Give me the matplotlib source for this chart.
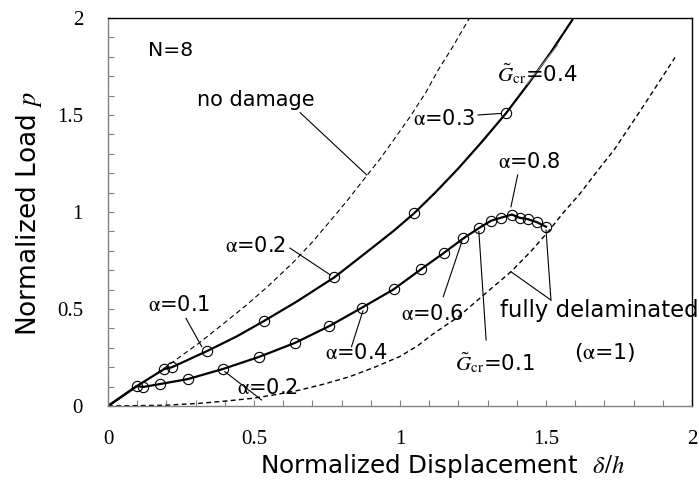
import matplotlib
matplotlib.use("Agg")
import matplotlib.pyplot as plt
from matplotlib.ticker import MultipleLocator

plt.rcParams['mathtext.fontset'] = 'stix'
plt.rcParams['font.family'] = ['DejaVu Sans']

# ---- data ----
# no damage (dashed)
nd_x = [0, 0.1, 0.2, 0.315, 0.4, 0.474, 0.55, 0.634, 0.7, 0.759, 0.82, 0.885,
        0.93, 0.98, 1.034, 1.09, 1.13, 1.18, 1.238]
nd_y = [0, 0.1, 0.203, 0.328, 0.43, 0.52, 0.62, 0.74, 0.845, 0.95, 1.06, 1.185,
        1.27, 1.375, 1.49, 1.62, 1.73, 1.85, 2.0]
# fully delaminated (dashed)
fd_x = [0, 0.2, 0.315, 0.4, 0.497, 0.58, 0.656, 0.74, 0.827, 0.91, 0.998, 1.06,
        1.112, 1.2, 1.283, 1.38, 1.45, 1.511, 1.56, 1.614, 1.67, 1.733, 1.8, 1.87, 1.942]
fd_y = [0, 0.004, 0.014, 0.025, 0.04, 0.06, 0.082, 0.113, 0.151, 0.198, 0.254, 0.31,
        0.37, 0.46, 0.568, 0.692, 0.8, 0.905, 0.998, 1.09, 1.2, 1.32, 1.47, 1.63, 1.797]
# Gcr = 0.4 (solid) line and circles
g4_x = [0, 0.099, 0.192, 0.219, 0.339, 0.44, 0.534, 0.646, 0.775, 0.907, 0.98, 1.048,
        1.12, 1.2, 1.28, 1.363, 1.443, 1.52, 1.59]
g4_y = [0, 0.103, 0.19, 0.2, 0.283, 0.358, 0.438, 0.538, 0.663, 0.818, 0.905, 0.993,
        1.099, 1.225, 1.361, 1.509, 1.668, 1.831, 1.99]
g4_cx = [0.099, 0.192, 0.219, 0.339, 0.534, 0.775, 1.048, 1.363]
g4_cy = [0.103, 0.19, 0.2, 0.283, 0.438, 0.663, 0.993, 1.509]
# Gcr = 0.1 (solid) line with circles
g1_x = [0, 0.099, 0.12, 0.178, 0.274, 0.394, 0.517, 0.64, 0.758, 0.87, 0.978,
        1.072, 1.151, 1.217, 1.27, 1.312, 1.347, 1.383, 1.41, 1.438, 1.468, 1.5]
g1_y = [0, 0.103, 0.098, 0.113, 0.139, 0.191, 0.253, 0.325, 0.412, 0.507, 0.601,
        0.705, 0.79, 0.864, 0.917, 0.955, 0.971, 0.987, 0.97, 0.963, 0.948, 0.924]
g1_cx = g1_x[2:]
g1_cy = g1_y[2:]

fig = plt.figure(figsize=(6.99, 4.86), dpi=100)
ax = fig.add_axes([108/699, 80/486, 584/699, 388/486])

ax.plot(nd_x, nd_y, color='black', lw=0.8, dashes=[4.5, 3])
ax.plot(fd_x, fd_y, color='black', lw=1.0, dashes=[3.5, 2.4])
ax.plot(g4_x, g4_y, color='black', lw=1.6)
ax.plot(g1_x, g1_y, color='black', lw=1.6)
mk = dict(ls='none', marker='o', ms=7.4, mfc='none', mec='black', mew=0.8)
ax.plot(g4_cx, g4_cy, **mk)
ax.plot(g1_cx, g1_cy, **mk)

ax.set_xlim(0, 2)
ax.set_ylim(0, 2)
ax.xaxis.set_minor_locator(MultipleLocator(0.1))
ax.yaxis.set_minor_locator(MultipleLocator(0.1))
ax.set_xticks([0, 0.5, 1, 1.5, 2], ['0', '0.5', '1', '1.5', '2'])
ax.set_yticks([0, 0.5, 1, 1.5, 2], ['0', '0.5', '1', '1.5', '2'])
ax.tick_params(which='both', direction='in', length=4.3, width=0.8, color='#808080',
               top=False, right=False)
ax.tick_params(axis='x', pad=17)
ax.tick_params(axis='y', pad=18)
for lab in ax.get_xticklabels() + ax.get_yticklabels():
    lab.set_family('Liberation Serif')
    lab.set_fontsize(15)
for s in ['left', 'bottom']:
    ax.spines[s].set_color('#808080')
for s in ['top', 'right']:
    ax.spines[s].set_color('black')
for s in ax.spines.values():
    s.set_linewidth(1.0)

ax.set_xlabel(r'Normalized Displacement  $\delta/h$', fontsize=17.7)
ax.xaxis.set_label_coords(0.572, -0.1727)
ax.xaxis.label.set_va('baseline')
ax.set_ylabel(r'Normalized Load $p$', fontsize=19)
ax.yaxis.set_label_coords(-0.11, 0.495)

def lead(x0, y0, x1, y1, c='black'):
    ax.plot([x0, x1], [y0, y1], color=c, lw=0.8, clip_on=False)

def lab(x, y, s, size):
    ax.text(x, y, s, fontsize=size, va='center', ha='left')

lab(0.137, 1.835, 'N=8', 14.7)
lab(0.305, 1.577, 'no damage', 15.0)
lead(0.658, 1.512, 0.886, 1.191)

lab(1.332, 1.711, r'$\tilde{G}_{\rm cr}$=0.4', 15.3)
lead(1.435, 1.66, 1.54, 1.86, c='#888888')

lab(1.043, 1.479, r'$\mathrm{\alpha}$=0.3', 15)
lead(1.267, 1.5, 1.345, 1.508)

lab(1.335, 1.258, r'$\mathrm{\alpha}$=0.8', 15)
lead(1.403, 1.191, 1.38, 1.027)

lab(0.40, 0.825, r'$\mathrm{\alpha}$=0.2', 15)
lead(0.623, 0.814, 0.762, 0.675)

lab(0.137, 0.52, r'$\mathrm{\alpha}$=0.1', 15)
lead(0.267, 0.452, 0.321, 0.306)

lab(0.442, 0.093, r'$\mathrm{\alpha}$=0.2', 15)
lead(0.4, 0.177, 0.526, 0.031)

lab(0.743, 0.273, r'$\mathrm{\alpha}$=0.4', 15)
lead(0.834, 0.306, 0.873, 0.49)

lab(1.004, 0.474, r'$\mathrm{\alpha}$=0.6', 15)
lead(1.148, 0.563, 1.212, 0.848)

lab(1.188, 0.222, r'$\tilde{G}_{\rm cr}$=0.1', 15.3)
lead(1.295, 0.34, 1.27, 0.90)

lab(1.342, 0.49, 'fully delaminated', 16.4)
lab(1.597, 0.278, r'($\mathrm{\alpha}$=1)', 15.8)
lead(1.517, 0.546, 1.38, 0.692)
lead(1.517, 0.546, 1.5, 0.907)

fig.savefig('out.png', dpi=100)
